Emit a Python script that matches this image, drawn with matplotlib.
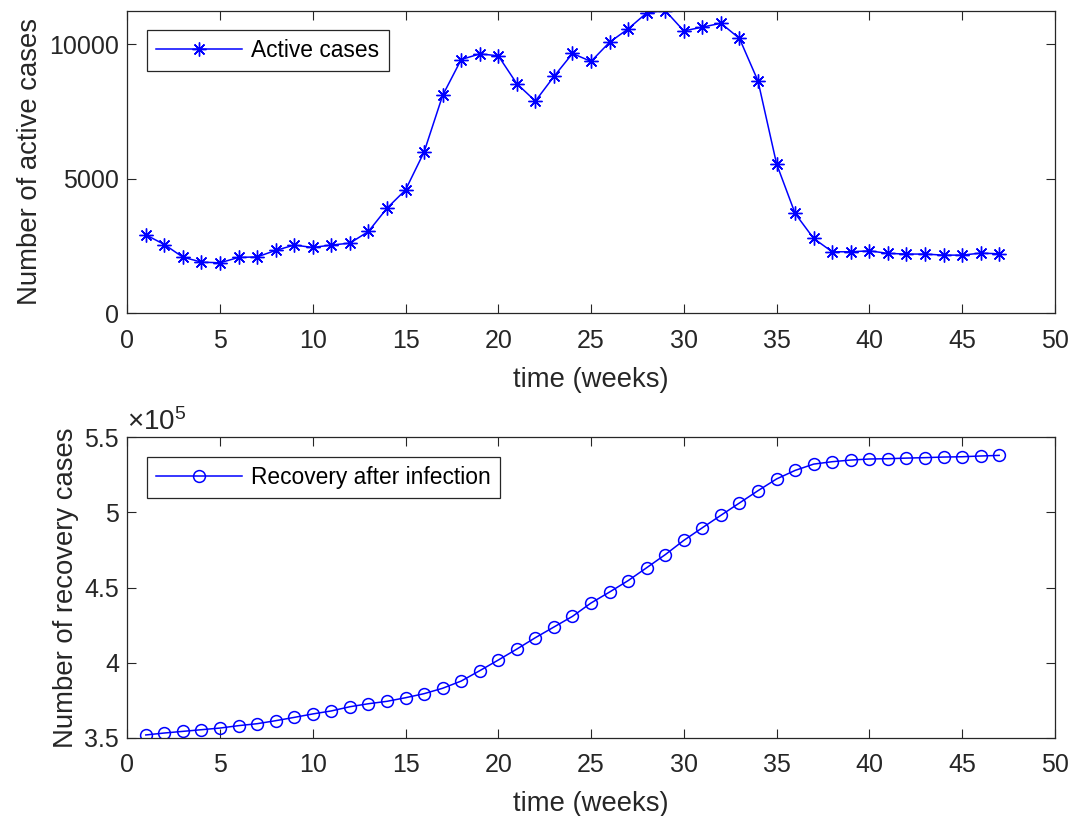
import numpy as np
import matplotlib.pyplot as plt
from matplotlib.ticker import FixedLocator, FuncFormatter

# weekly series
weeks = np.arange(1, 48)

active = [2920, 2560, 2090, 1905, 1880, 2080, 2100, 2340, 2540, 2450,
          2540, 2610, 3045, 3910, 4590, 6000, 8105, 9440, 9650, 9580,
          8540, 7895, 8810, 9665, 9370, 10085, 10580, 11175, 11260, 10505,
          10645, 10790, 10225, 8640, 5560, 3715, 2785, 2290, 2290, 2325,
          2230, 2205, 2205, 2165, 2165, 2240, 2215]

recovery = [3.518, 3.531, 3.542, 3.553, 3.564, 3.580, 3.593, 3.613, 3.635, 3.658,
            3.678, 3.706, 3.726, 3.742, 3.766, 3.793, 3.829, 3.877, 3.946, 4.017,
            4.090, 4.166, 4.237, 4.308, 4.397, 4.470, 4.546, 4.632, 4.719, 4.814,
            4.898, 4.981, 5.063, 5.145, 5.223, 5.280, 5.322, 5.338, 5.349, 5.356,
            5.358, 5.362, 5.365, 5.369, 5.371, 5.376, 5.380]
recovery = [v * 1e5 for v in recovery]

xticks = list(range(0, 51, 5))
rec_ticks = [3.5e5, 4.0e5, 4.5e5, 5.0e5, 5.5e5]

plt.rcParams['font.family'] = ['Liberation Sans', 'DejaVu Sans']
plt.rcParams['mathtext.fontset'] = 'custom'
plt.rcParams['mathtext.rm'] = 'Liberation Sans'

dark = '#262626'

fig = plt.figure(figsize=(10.83, 8.16), dpi=100)
ax1 = fig.add_axes([0.1175, 0.616, 0.8565, 0.371])
ax2 = fig.add_axes([0.1175, 0.096, 0.8565, 0.368])


def style(ax):
    ax.set_xlim(0, 50)
    ax.xaxis.set_major_locator(FixedLocator(xticks))
    ax.tick_params(direction='in', length=6.7, width=0.8, colors=dark,
                   labelsize=18, top=True, right=True)
    ax.tick_params(axis='x', pad=11)
    ax.tick_params(axis='y', pad=6)
    for s in ax.spines.values():
        s.set_color(dark)
        s.set_linewidth(0.9)
    ax.set_xlabel('time (weeks)', fontsize=19.8, color=dark, labelpad=10)


ax1.plot(weeks, active, color='b', lw=1.1, marker=(8, 2, 0), ms=10,
         mew=1.0, label='Active cases')
style(ax1)
ax1.set_ylim(0, max(active))
ax1.yaxis.set_major_locator(FixedLocator([0, 5000, 10000]))
ax1.set_ylabel('Number of active cases', fontsize=19.8, color=dark)

ax2.plot(weeks, recovery, color='b', lw=1.1, marker='o', ms=8.5, mfc='none',
         mew=1.1, label='Recovery after infection')
style(ax2)
ax2.set_ylim(3.5e5, 5.5e5)
ax2.yaxis.set_major_locator(FixedLocator(rec_ticks))
ax2.yaxis.set_major_formatter(FuncFormatter(lambda v, p: '%g' % (v / 1e5)))
ax2.set_ylabel('Number of recovery cases', fontsize=19.8, color=dark)
ax2.text(0.0, 1.004, r'$\times\mathregular{10^5}$', transform=ax2.transAxes,
         fontsize=20, color=dark, va='bottom', ha='left')

for ax in (ax1, ax2):
    leg = ax.legend(loc='upper left', fontsize=16.4, handlelength=3.8,
                    fancybox=False, framealpha=1, borderpad=0.4,
                    borderaxespad=0.85, handletextpad=0.4)
    leg.get_frame().set_edgecolor(dark)
    leg.get_frame().set_linewidth(0.9)

fig.savefig('out.png', dpi=100)
